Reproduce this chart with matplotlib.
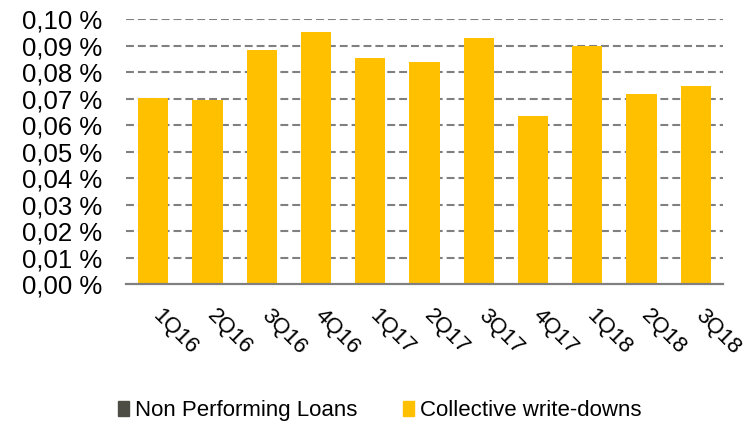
import matplotlib.pyplot as plt
from matplotlib.patches import Patch
from matplotlib.transforms import ScaledTranslation

quarters = ['1Q16', '2Q16', '3Q16', '4Q16', '1Q17', '2Q17', '3Q17',
            '4Q17', '1Q18', '2Q18', '3Q18']
collective_writedowns = [0.0702, 0.0695, 0.0884, 0.0952, 0.0854, 0.0839,
                         0.0929, 0.0635, 0.0900, 0.0718, 0.0748]
y_ticks = [0.00, 0.01, 0.02, 0.03, 0.04, 0.05, 0.06, 0.07, 0.08, 0.09, 0.10]

yellow = '#FFC000'
dark = '#4D4D45'
grey = '#808080'

plt.rcParams['font.family'] = ['Liberation Sans', 'DejaVu Sans']

fig = plt.figure(figsize=(7.52, 4.24), dpi=100)
ax = fig.add_axes([0.1676, 0.3295, 0.7938, 0.6257])

x = list(range(len(quarters)))
ax.bar(x, collective_writedowns, width=0.56, color=yellow, zorder=3)

ax.set_xlim(-0.5, len(quarters) - 0.5)
ax.set_ylim(0, 0.10)
ax.set_yticks(y_ticks)
ax.set_yticklabels([f'{v:.2f} %'.replace('.', ',') for v in y_ticks], fontsize=18.5)
ax.tick_params(axis='y', length=0, pad=17)

ax.set_xticks(x)
ax.set_xticklabels(quarters, fontsize=16, rotation=-45, ha='left', va='top')
ax.tick_params(axis='x', length=0, pad=15)
# nudge the slanted quarter labels a little to the left
shift = ScaledTranslation(-5 / 100, 0, fig.dpi_scale_trans)
for lbl in ax.get_xticklabels():
    lbl.set_transform(lbl.get_transform() + shift)

for v in y_ticks[1:]:
    ax.axhline(v, color=grey, lw=1.5, ls=(0, (3.8, 1.9)), zorder=1)

for side in ['top', 'right', 'left']:
    ax.spines[side].set_visible(False)
ax.spines['bottom'].set_color(grey)
ax.spines['bottom'].set_linewidth(1.6)
ax.spines['bottom'].set_zorder(4)

handles = [Patch(color=dark, label='Non Performing Loans'),
           Patch(color=yellow, label='Collective write-downs')]
fig.legend(handles=handles, loc='center', bbox_to_anchor=(0.505, 0.031),
           ncol=2, frameon=False, fontsize=16, handlelength=0.5,
           handleheight=0.7, handletextpad=0.25, columnspacing=2.05)

fig.savefig('out.png', dpi=100)
